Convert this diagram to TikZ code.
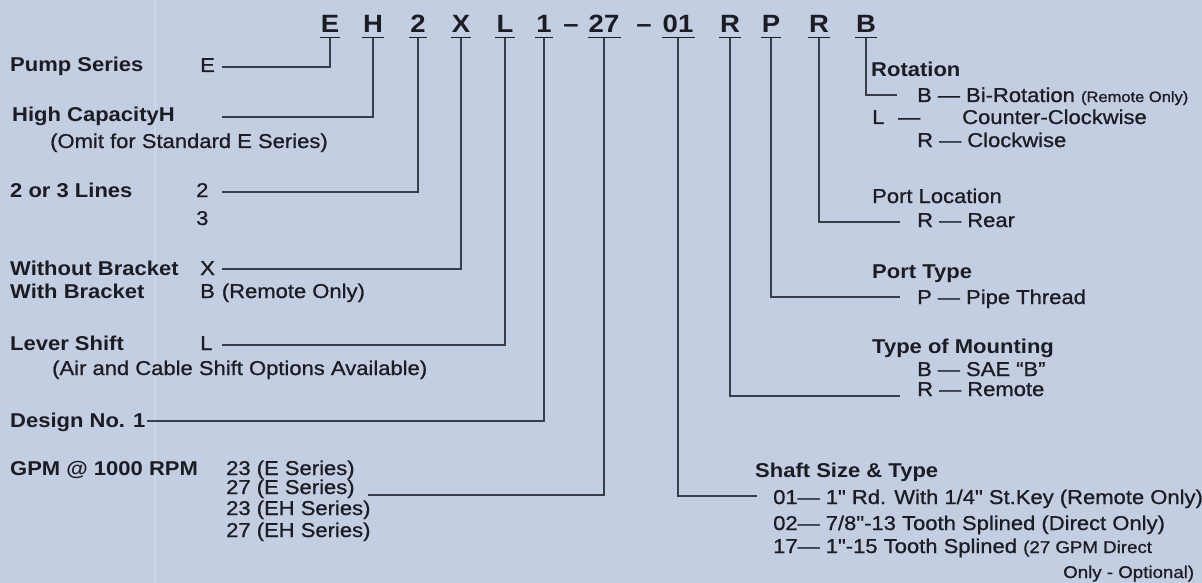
\documentclass[tikz,border=0pt]{standalone}
\usepackage{fontspec}
\setmainfont{Liberation Sans}[FakeStretch=1.1]
\newfontfamily\bodyfont{Liberation Sans}[FakeStretch=1.1, FakeBold=0.9]
\definecolor{bg}{RGB}{196,206,226}
\definecolor{ink}{RGB}{28,28,36}
\definecolor{wire}{RGB}{58,62,72}
\definecolor{streak}{RGB}{206,214,231}
\begin{document}
\begin{tikzpicture}[x=1pt,y=-1pt,
  txt/.style={anchor=base west, inner sep=0pt, text=ink, font=\bodyfont\fontsize{20}{24}\selectfont},
  hdr/.style={txt, font=\fontsize{20}{24}\selectfont\bfseries},
  code/.style={anchor=base, inner sep=0pt, text=ink, font=\fontsize{25}{30}\selectfont\bfseries},
  conn/.style={draw=wire, line width=1.4pt},
  uline/.style={draw=ink, line width=1.8pt}]
\fill[bg] (0,0) rectangle (1202,583);
\useasboundingbox (0,0) rectangle (1202,583);
\draw[streak, line width=2.5pt] (155,0) -- (155,583);

% code row
\node[code] (cE) at (330,33) {E};
\node[code] (cH) at (373,33) {H};
\node[code] (c2) at (418,33) {2};
\node[code] (cX) at (461,33) {X};
\node[code] (cL) at (505,33) {L};
\node[code] (c1) at (544,33) {1};
\node[code] (d1) at (571,33) {–};
\node[code] (c27) at (604,33) {27};
\node[code] (d2) at (644,33) {–};
\node[code] (c01) at (678,33) {01};
\node[code] (cR) at (730,33) {R};
\node[code] (cP) at (771,33) {P};
\node[code] (cR2) at (819,33) {R};
\node[code] (cB) at (866,33) {B};
\foreach \n in {cE,cH,c2,cX,cL,c1,c27,c01,cR,cP,cR2,cB}
  \draw[uline] ([xshift=-1pt,yshift=-4.5pt]\n.base west) -- ([xshift=1pt,yshift=-4.5pt]\n.base east);

% left side
\node[hdr] (tPump) at (10,72) {Pump Series};
\node[txt] (lE) at (200,72) {E};
\coordinate (pE) at (222,67);
\node[hdr] (tHigh) at (12,122) {High CapacityH};
\coordinate (pH) at (222,117);
\node[txt] (tOmit) at (50,148) {(Omit for Standard E Series)};
\node[hdr] (tLines) at (10,197) {2 or 3 Lines};
\node[txt] (l2) at (196,197) {2};
\node[txt] (l3) at (196,225) {3};
\coordinate (p2) at (222,192);
\node[hdr] (tWo) at (10,275) {Without Bracket};
\node[txt] (lX) at (200,275) {X};
\coordinate (pX) at (222,269);
\node[hdr] (tW) at (10,298) {With Bracket};
\node[txt] (lB) at (200,298) {B\hspace{7pt}(Remote Only)};
\node[hdr] (tLever) at (10,350) {Lever Shift};
\node[txt] (lL) at (200,350) {L};
\coordinate (pL) at (222,345);
\node[txt] (tAir) at (52,375) {(Air and Cable Shift Options Available)};
\node[hdr] (tDesign) at (10,427) {Design No. 1};
\coordinate (p1) at (147,421);
\node[hdr] (tGPM) at (10,475) {GPM @ 1000 RPM};
\node[txt] (g1) at (226,475) {23 (E Series)};
\node[txt] (g2) at (226,494) {27 (E Series)};
\node[txt] (g3) at (226,515) {23 (EH Series)};
\node[txt] (g4) at (226,537) {27 (EH Series)};
\coordinate (p27) at (368,495);

% right side
\node[hdr] (tRot) at (871,77) {Rotation};
\node[txt] (rB) at (917,102) {B — Bi-Rotation {\fontsize{15}{18}\selectfont(Remote Only)}};
\coordinate (qB) at (897,95);
\node[txt] (rL) at (872,124) {L};
\node[txt] (rLd) at (898,124) {—};
\node[txt] (rLt) at (962,124) {Counter-Clockwise};
\node[txt] (rR) at (917,147) {R — Clockwise};
\node[txt] (tPL) at (872,203) {Port Location};
\node[txt] (rRear) at (917,227) {R — Rear};
\coordinate (qR) at (900,222);
\node[hdr] (tPT) at (872,278) {Port Type};
\node[txt] (rP) at (917,304) {P — Pipe Thread};
\coordinate (qP) at (900,297);
\node[hdr] (tTM) at (872,353) {Type of Mounting};
\node[txt] (rSAE) at (917,376) {B — SAE “B”};
\node[txt] (rRem) at (917,396) {R — Remote};
\coordinate (qM) at (900,396);
\node[hdr] (tSh) at (755,477) {Shaft Size \& Type};
\node[txt] (s1) at (773,504) {01— 1" Rd. With 1/4" St.Key (Remote Only)};
\node[txt] (s2) at (773,530) {02— 7/8"-13 Tooth Splined (Direct Only)};
\node[txt] (s3) at (773,553) {17— 1"-15 Tooth Splined {\fontsize{17}{20}\selectfont(27 GPM Direct}};
\node[txt, font=\bodyfont\fontsize{17}{20}\selectfont] (s4) at (1063,578) {Only - Optional)};
\coordinate (q01) at (757,496);

% connectors
\draw[conn] ([yshift=-5pt]cE.base) |- (pE);
\draw[conn] ([yshift=-5pt]cH.base) |- (pH);
\draw[conn] ([yshift=-5pt]c2.base) |- (p2);
\draw[conn] ([yshift=-5pt]cX.base) |- (pX);
\draw[conn] ([yshift=-5pt]cL.base) |- (pL);
\draw[conn] ([yshift=-5pt]c1.base) |- (p1);
\draw[conn] ([yshift=-5pt]c27.base) |- (p27);
\draw[conn] ([yshift=-5pt]c01.base) |- (q01);
\draw[conn] ([yshift=-5pt]cR.base) |- (qM);
\draw[conn] ([yshift=-5pt]cP.base) |- (qP);
\draw[conn] ([yshift=-5pt]cR2.base) |- (qR);
\draw[conn] ([yshift=-5pt]cB.base) |- (qB);
\end{tikzpicture}
\end{document}
